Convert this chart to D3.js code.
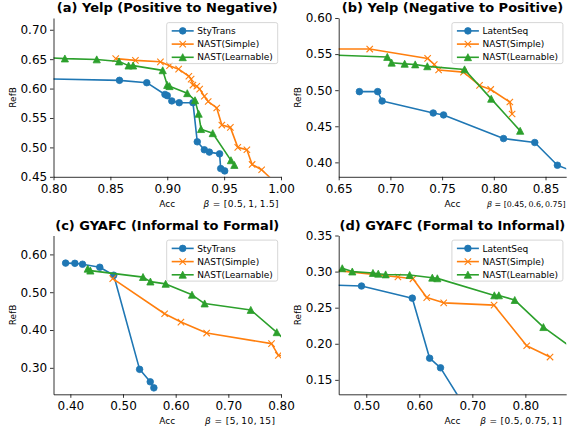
<!DOCTYPE html>
<html>
<head>
<meta charset="utf-8">
<script src="https://cdn.jsdelivr.net/npm/d3@7"></script>
<style>
body { margin: 0; background: #fff; }
svg text { font-family: "DejaVu Sans", sans-serif; }
</style>
</head>
<body>
<svg id="chart" width="571" height="434"></svg>
<script>

// series colours / markers (blue, orange, green)
var colors = ["#1f77b4", "#ff7f0e", "#2ca02c"];
var markers = ["circle", "x", "triangle"];

var panelTitles = [
	"(a) Yelp (Positive to Negative)",
	"(b) Yelp (Negative to Positive)",
	"(c) GYAFC (Informal to Formal)",
	"(d) GYAFC (Formal to Informal)"
];
var betaLabels = ["[0.5,\u20091,\u20091.5]", "[0.45,\u20090.6,\u20090.75]", "[5,\u200910,\u200915]", "[0.5,\u20090.75,\u20091]"];
var legendNames = [
	["StyTrans", "NAST(Simple)", "NAST(Learnable)"],
	["LatentSeq", "NAST(Simple)", "NAST(Learnable)"],
	["StyTrans", "NAST(Simple)", "NAST(Learnable)"],
	["LatentSeq", "NAST(Simple)", "NAST(Learnable)"]
];

// (a) yelp positive -> negative, [acc, refB]
var yelpPnStyTrans = [[0.75, 0.618], [0.858, 0.614], [0.882, 0.610], [0.898, 0.590], [0.900, 0.588], [0.904, 0.579], [0.9105, 0.576], [0.9226, 0.576], [0.9264, 0.5095], [0.9326, 0.496], [0.937, 0.492], [0.946, 0.489], [0.947, 0.464], [0.9505, 0.460]];
var yelpPnSimple = [[0.8547, 0.651], [0.872, 0.648], [0.894, 0.6455], [0.902, 0.639], [0.910, 0.633], [0.919, 0.621], [0.921, 0.616], [0.9226, 0.606], [0.926, 0.604], [0.9285, 0.599], [0.9326, 0.587], [0.936, 0.578], [0.9435, 0.567], [0.948, 0.538], [0.9555, 0.534], [0.962, 0.500], [0.970, 0.496], [0.9746, 0.471], [0.983, 0.462], [0.995, 0.44]];
var yelpPnLearnable = [[0.78, 0.654], [0.810, 0.651], [0.838, 0.6495], [0.8576, 0.646], [0.866, 0.639], [0.870, 0.639], [0.896, 0.631], [0.900, 0.606], [0.902, 0.604], [0.9176, 0.592], [0.9244, 0.580], [0.9276, 0.557], [0.9297, 0.531], [0.940, 0.524], [0.956, 0.478], [0.959, 0.470]];

// (b) yelp negative -> positive
var yelpNpLatentSeq = [[0.670, 0.498], [0.6877, 0.498], [0.692, 0.485], [0.7414, 0.4684], [0.7514, 0.4657], [0.8094, 0.433], [0.8396, 0.4275], [0.8615, 0.396], [0.89, 0.38]];
var yelpNpSimple = [[0.60, 0.557], [0.680, 0.557], [0.736, 0.544], [0.7424, 0.5356], [0.7466, 0.528], [0.7707, 0.525], [0.7862, 0.5066], [0.797, 0.501], [0.8155, 0.4836], [0.8177, 0.467]];
var yelpNpLearnable = [[0.60, 0.551], [0.697, 0.546], [0.7012, 0.538], [0.7138, 0.5365], [0.724, 0.5356], [0.7357, 0.533], [0.7717, 0.5287], [0.7975, 0.488], [0.8255, 0.4436]];

// (c) gyafc informal -> formal
var gyafcIfStyTrans = [[0.391, 0.577], [0.4086, 0.5764], [0.4231, 0.574], [0.4559, 0.566], [0.4824, 0.545], [0.5315, 0.296], [0.5517, 0.263], [0.5586, 0.247]];
var gyafcIfSimple = [[0.4805, 0.536], [0.579, 0.443], [0.610, 0.421], [0.6588, 0.392], [0.782, 0.364], [0.795, 0.333], [0.83, 0.33]];
var gyafcIfLearnable = [[0.433, 0.562], [0.438, 0.557], [0.538, 0.540], [0.552, 0.528], [0.581, 0.522], [0.631, 0.493], [0.655, 0.470], [0.7426, 0.453], [0.792, 0.394], [0.82, 0.356]];

// (d) gyafc formal -> informal
var gyafcFiLatentSeq = [[0.40, 0.282], [0.491, 0.280], [0.5868, 0.2632], [0.6195, 0.180], [0.640, 0.1667], [0.70, 0.096]];
var gyafcFiSimple = [[0.40, 0.305], [0.5597, 0.2925], [0.588, 0.290], [0.614, 0.264], [0.646, 0.2567], [0.741, 0.2535], [0.8025, 0.1973], [0.8465, 0.1816]];
var gyafcFiLearnable = [[0.4547, 0.3045], [0.4736, 0.300], [0.5126, 0.298], [0.5226, 0.297], [0.5365, 0.296], [0.5818, 0.2952], [0.6245, 0.2915], [0.634, 0.2906], [0.7415, 0.267], [0.750, 0.267], [0.780, 0.2605], [0.834, 0.223], [0.90, 0.188]];

// tick values
var xTicksA = [0.80, 0.85, 0.90, 0.95, 1.00];
var yTicksA = [0.45, 0.50, 0.55, 0.60, 0.65, 0.70];
var xTicksB = [0.65, 0.70, 0.75, 0.80, 0.85];
var yTicksB = [0.40, 0.45, 0.50, 0.55, 0.60];
var xTicksC = [0.40, 0.50, 0.60, 0.70, 0.80];
var yTicksC = [0.30, 0.40, 0.50, 0.60];
var xTicksD = [0.50, 0.60, 0.70, 0.80];
var yTicksD = [0.15, 0.20, 0.25, 0.30, 0.35];


var svg = d3.select("#chart");

var panels = [
	{ id: "a", left: 53.5, top: 18, xDomain: [0.80, 1.00], yDomain: [0.45, 0.72], xTicks: xTicksA, yTicks: yTicksA,
	  series: [yelpPnStyTrans, yelpPnSimple, yelpPnLearnable], betaX: 150, betaW: 75, betaSize: 9 },
	{ id: "b", left: 338.7, top: 18, xDomain: [0.65, 0.87], yDomain: [0.38, 0.60], xTicks: xTicksB, yTicks: yTicksB,
	  series: [yelpNpLatentSeq, yelpNpSimple, yelpNpLearnable], betaX: 148.3, betaW: 0, betaSize: 7.9 },
	{ id: "c", left: 53.5, top: 235.5, xDomain: [0.368, 0.80], yDomain: [0.23, 0.65], xTicks: xTicksC, yTicks: yTicksC,
	  series: [gyafcIfStyTrans, gyafcIfSimple, gyafcIfLearnable], betaX: 151.5, betaW: 70, betaSize: 9 },
	{ id: "d", left: 338.7, top: 235.5, xDomain: [0.448, 0.877], yDomain: [0.13, 0.35], xTicks: xTicksD, yTicks: yTicksD,
	  series: [gyafcFiLatentSeq, gyafcFiSimple, gyafcFiLearnable], betaX: 141.5, betaW: 81.5, betaSize: 9 }
];

var panelWidth = 227.5,
    panelHeight = 158.8;

panels.forEach(function(p, i) {
	drawPanel(p, i);
});


function addMarker(sel, type, color) {
	if (type == "circle") {
		sel.append("circle")
			.attr("r", 3.3)
			.attr("fill", color)
			.attr("stroke", color)
			.attr("stroke-width", 0.8);
	} else if (type == "triangle") {
		sel.append("path")
			.attr("d", "M0,-3.6L3.6,3.4L-3.6,3.4Z")
			.attr("fill", color)
			.attr("stroke", color)
			.attr("stroke-width", 0.8);
	} else {
		sel.append("path")
			.attr("d", "M-3.2,-3.2L3.2,3.2M-3.2,3.2L3.2,-3.2")
			.attr("fill", "none")
			.attr("stroke", color)
			.attr("stroke-width", 1.1);
	}
}

function drawPanel(p, idx) {
	var width = panelWidth, height = panelHeight;

	var g = svg.append("g")
		.attr("transform", "translate(" + p.left + "," + p.top + ")");

	var x = d3.scaleLinear().domain(p.xDomain).range([0, width]);
	var y = d3.scaleLinear().domain(p.yDomain).range([height, 0]);

	g.append("clipPath")
		.attr("id", "clip-" + p.id)
		.append("rect")
		.attr("width", width)
		.attr("height", height);

	var plot = g.append("g").attr("clip-path", "url(#clip-" + p.id + ")");

	var line = d3.line()
		.x(function(d) { return x(d[0]); })
		.y(function(d) { return y(d[1]); });

	p.series.forEach(function(s, k) {
		plot.append("path")
			.datum(s)
			.attr("d", line)
			.attr("fill", "none")
			.attr("stroke", colors[k])
			.attr("stroke-width", 1.6)
			.attr("stroke-linejoin", "round");

		var pts = plot.selectAll(".pt-" + k)
			.data(s)
			.enter().append("g")
			.attr("class", "pt-" + k)
			.attr("transform", function(d) { return "translate(" + x(d[0]) + "," + y(d[1]) + ")"; });
		addMarker(pts, markers[k], colors[k]);
	});

	// axes (left + bottom spines only)
	var xAxis = d3.axisBottom(x)
		.tickValues(p.xTicks)
		.tickFormat(d3.format(".2f"))
		.tickSizeInner(3.5)
		.tickSizeOuter(0)
		.tickPadding(4);

	var yAxis = d3.axisLeft(y)
		.tickValues(p.yTicks)
		.tickFormat(d3.format(".2f"))
		.tickSizeInner(3.5)
		.tickSizeOuter(0)
		.tickPadding(2.8);

	var gx = g.append("g")
		.attr("transform", "translate(0," + height + ")")
		.call(xAxis);
	var gy = g.append("g").call(yAxis);

	[gx, gy].forEach(function(a) {
		a.attr("font-family", "DejaVu Sans").attr("font-size", 12);
		a.select(".domain").attr("stroke", "#000").attr("stroke-width", 0.8);
		a.selectAll(".tick line").attr("stroke", "#000").attr("stroke-width", 0.8);
		a.selectAll(".tick text").attr("fill", "#000");
	});

	// title and labels
	g.append("text")
		.attr("x", width / 2)
		.attr("y", -5.7)
		.attr("text-anchor", "middle")
		.attr("font-size", 13)
		.attr("font-weight", "bold")
		.text(panelTitles[idx]);

	g.append("text")
		.attr("transform", "translate(-38," + (height / 2) + ") rotate(-90)")
		.attr("text-anchor", "middle")
		.attr("font-size", 9)
		.text("RefB");

	g.append("text")
		.attr("x", width / 2)
		.attr("y", height + 30)
		.attr("text-anchor", "middle")
		.attr("font-size", 9)
		.text("Acc");

	// beta annotation
	var beta = g.append("text")
		.attr("x", p.betaX)
		.attr("y", height + 30)
		.attr("font-size", p.betaSize);
	if (p.betaW > 0) {
		beta.attr("textLength", p.betaW).attr("lengthAdjust", "spacing");
	}
	beta.append("tspan").attr("font-style", "italic").text("β");
	beta.append("tspan").text(" = " + betaLabels[idx]);

	// legend
	var lg = g.append("g")
		.attr("transform", "translate(" + (width - 114.3) + ",4.6)");

	lg.append("rect")
		.attr("width", 111)
		.attr("height", 41)
		.attr("rx", 2)
		.attr("fill", "#fff")
		.attr("fill-opacity", 0.8)
		.attr("stroke", "#ccc")
		.attr("stroke-width", 0.8);

	legendNames[idx].forEach(function(name, k) {
		var ly = 8.3 + k * 13.2;
		lg.append("line")
			.attr("x1", 5).attr("x2", 27)
			.attr("y1", ly).attr("y2", ly)
			.attr("stroke", colors[k])
			.attr("stroke-width", 1.6);
		var m = lg.append("g").attr("transform", "translate(16," + ly + ")");
		addMarker(m, markers[k], colors[k]);
		lg.append("text")
			.attr("x", 30.6)
			.attr("y", ly)
			.attr("dy", "0.35em")
			.attr("font-size", 9)
			.text(name);
	});
}
</script>
</body>
</html>
